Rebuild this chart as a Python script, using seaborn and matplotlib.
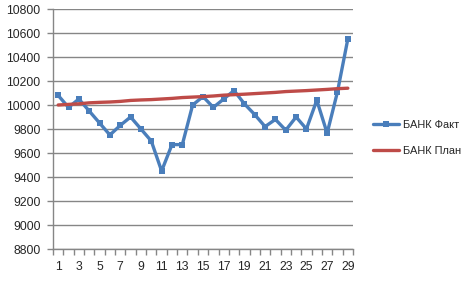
import matplotlib
matplotlib.use("Agg")
import matplotlib.pyplot as plt
import seaborn as sns
import pandas as pd
import numpy as np

days = list(range(1, 30))
fact = [10080, 9980, 10050, 9950, 9850, 9750, 9830, 9900, 9800, 9700,
        9450, 9670, 9670, 10000, 10070, 9980, 10050, 10120, 10010, 9920,
        9820, 9880, 9790, 9900, 9800, 10040, 9765, 10110, 10550]
plan = [10000, 10005, 10010, 10018, 10022, 10025, 10030, 10038, 10042, 10045,
        10050, 10055, 10062, 10066, 10070, 10075, 10082, 10086, 10090, 10095,
        10100, 10105, 10112, 10116, 10120, 10125, 10130, 10136, 10140]
series_names = ["БАНК Факт", "БАНК План"]
y_ticks = list(range(8800, 10801, 200))

df_fact = pd.DataFrame({"day": days, "value": fact})
df_plan = pd.DataFrame({"day": days, "value": plan})

sns.set_style("white")
plt.rcParams["font.family"] = ["Liberation Sans", "DejaVu Sans"]

fig = plt.figure(figsize=(4.71, 2.83), dpi=100)
ax = fig.add_axes([53 / 471, 1 - 249 / 283, 300 / 471, 240 / 283])

sns.lineplot(data=df_fact, x="day", y="value", color="#4A7EBB", marker="s",
             linewidth=2.4, markersize=4.5, markeredgewidth=0,
             label=series_names[0], ax=ax)
sns.lineplot(data=df_plan, x="day", y="value", color="#BE4B48",
             linewidth=2.4, label=series_names[1], ax=ax)

ax.set_xlim(0.5, 29.5)
ax.set_ylim(8800, 10800)
ax.set_yticks(y_ticks)
ax.set_yticklabels([str(v) for v in y_ticks], fontsize=8.8)
ax.yaxis.grid(True, color="#868686", linewidth=1)
ax.set_axisbelow(True)
ax.set_xticks(days[::2])
ax.set_xticklabels([str(d) for d in days[::2]], fontsize=8.8)
ax.set_xticks(np.arange(0.5, 30, 1), minor=True)
ax.tick_params(axis="x", which="major", length=0, pad=8.5)
ax.tick_params(axis="x", which="minor", length=4, color="#868686", width=1, direction="out", bottom=True)
ax.tick_params(axis="y", length=4, color="#868686", width=1, direction="out", left=True, pad=5)
ax.set_xlabel("")
ax.set_ylabel("")
for s in ["top", "right"]:
    ax.spines[s].set_visible(False)
for s in ["left", "bottom"]:
    ax.spines[s].set_color("#868686")
    ax.spines[s].set_linewidth(1)

handles, labels = ax.get_legend_handles_labels()
ax.legend(handles, labels, loc="center left", bbox_to_anchor=(1.067, 0.4625),
          frameon=False, fontsize=7.9, handlelength=2.4, handletextpad=0.3,
          labelspacing=1.45, borderpad=0, borderaxespad=0)

fig.savefig("out.png", dpi=100)
